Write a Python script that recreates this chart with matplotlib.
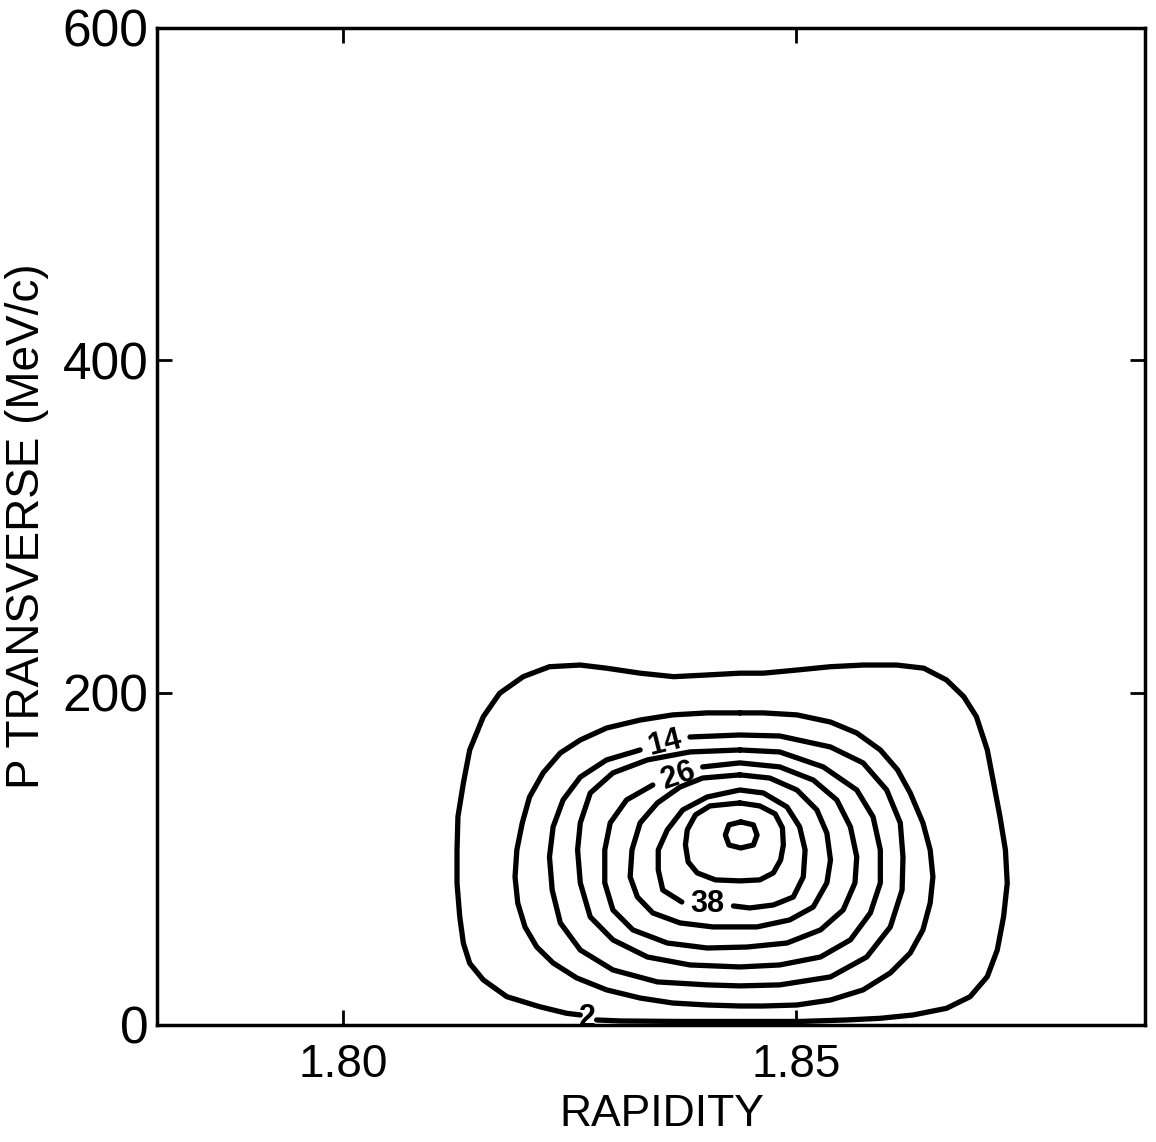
import matplotlib
matplotlib.use('Agg')
import matplotlib.pyplot as plt

# axis ticks
rapidity_ticks = [1.80, 1.85]
rapidity_labels = ['1.80', '1.85']
pt_ticks = [0, 200, 400, 600]
pt_labels = ['0', '200', '400', '600']

# contour lines: rapidity (x) and p transverse in MeV/c (y)
# level 2 (open at its label on the axis)
c2_x = [1.8262, 1.8247, 1.8217, 1.8181, 1.8155, 1.8140, 1.8133, 1.8129, 1.8126, 1.8126,
        1.8127, 1.8133, 1.8140, 1.8155, 1.8173, 1.8199, 1.8228, 1.8262, 1.8291, 1.8328,
        1.8365, 1.8401, 1.8438, 1.8464, 1.8501, 1.8538, 1.8574, 1.8611, 1.8641, 1.8666,
        1.8685, 1.8699, 1.8711, 1.8718, 1.8725, 1.8731, 1.8733, 1.8729, 1.8722, 1.8711,
        1.8692, 1.8666, 1.8629, 1.8593, 1.8556, 1.8504, 1.8438, 1.8372, 1.8306, 1.8280]
c2_y = [6.0, 7.0, 11.0, 17.0, 27.1, 37.1, 49.2, 65.2, 85.3, 105.3,
        125.3, 145.5, 165.5, 185.5, 199.6, 209.6, 215.6, 216.6, 214.7, 211.7,
        209.6, 210.6, 211.7, 211.7, 213.6, 215.6, 216.6, 216.6, 214.7, 207.6,
        197.6, 185.5, 165.5, 145.5, 125.3, 105.3, 85.3, 65.2, 45.1, 29.1,
        17.0, 10.0, 6.0, 4.0, 3.0, 2.1, 2.1, 2.1, 2.4, 3.0]

# level 8 (closed)
c8_x = [1.8438, 1.8464, 1.8501, 1.8538, 1.8567, 1.8593, 1.8612, 1.8626, 1.8640, 1.8648,
        1.8651, 1.8648, 1.8640, 1.8626, 1.8604, 1.8574, 1.8538, 1.8501, 1.8464, 1.8438,
        1.8402, 1.8364, 1.8328, 1.8291, 1.8258, 1.8232, 1.8214, 1.8201, 1.8193, 1.8190,
        1.8192, 1.8198, 1.8206, 1.8221, 1.8240, 1.8262, 1.8291, 1.8328, 1.8364, 1.8402]
c8_y = [187.8, 187.8, 186.6, 182.3, 175.7, 165.5, 153.5, 139.6, 121.6, 105.3,
        89.1, 73.4, 57.2, 43.3, 31.3, 21.1, 15.0, 12.0, 11.4, 11.4,
        12.0, 13.2, 16.2, 21.1, 28.3, 37.3, 46.9, 59.0, 73.4, 89.1,
        105.3, 121.6, 137.2, 151.7, 163.7, 171.5, 178.7, 183.5, 186.6, 187.8]

# level 14 (open at its label)
c14_x = [1.8383, 1.8438, 1.8482, 1.8538, 1.8574, 1.8600, 1.8615, 1.8618, 1.8617, 1.8604,
         1.8578, 1.8538, 1.8482, 1.8438, 1.8402, 1.8347, 1.8298, 1.8262, 1.8240, 1.8231,
         1.8228, 1.8232, 1.8243, 1.8262, 1.8291, 1.8328]
c14_y = [173.3, 174.5, 173.9, 167.3, 157.7, 141.4, 121.6, 101.1, 81.2, 59.0,
         40.9, 28.9, 24.1, 23.5, 24.1, 25.9, 33.1, 45.1, 61.4, 81.2,
         101.1, 119.2, 135.4, 149.2, 159.5, 165.5]

# level 20 (closed)
c20_x = [1.8438, 1.8482, 1.8530, 1.8567, 1.8585, 1.8593, 1.8593, 1.8582, 1.8560, 1.8527,
         1.8482, 1.8438, 1.8383, 1.8336, 1.8298, 1.8273, 1.8262, 1.8259, 1.8262, 1.8273,
         1.8298, 1.8336, 1.8383]
c20_y = [165.5, 164.3, 155.3, 141.4, 125.2, 105.3, 85.5, 67.4, 51.2, 40.9,
         36.1, 34.9, 36.1, 40.9, 51.2, 65.0, 85.5, 105.3, 121.6, 139.6,
         151.7, 159.5, 164.3]

# level 26 (open at its label)
c26_x = [1.8397, 1.8438, 1.8482, 1.8519, 1.8545, 1.8560, 1.8567, 1.8565, 1.8552, 1.8527,
         1.8490, 1.8446, 1.8402, 1.8358, 1.8320, 1.8298, 1.8289, 1.8289, 1.8295, 1.8313,
         1.8342]
c26_y = [155.3, 157.7, 155.3, 147.4, 135.4, 119.2, 101.1, 85.5, 69.2, 57.2,
         49.3, 46.9, 46.3, 49.3, 57.2, 69.2, 85.5, 105.3, 121.6, 135.4,
         144.4]

# level 32 (closed)
c32_x = [1.8438, 1.8471, 1.8501, 1.8523, 1.8534, 1.8538, 1.8534, 1.8519, 1.8493, 1.8457,
         1.8408, 1.8372, 1.8342, 1.8325, 1.8317, 1.8319, 1.8328, 1.8347, 1.8372, 1.8397]
c32_y = [150.5, 148.6, 141.4, 129.4, 115.5, 99.3, 85.5, 71.0, 63.2, 59.0,
         59.0, 61.4, 67.4, 77.0, 89.1, 105.3, 121.6, 133.6, 143.2, 148.6]

# level 38 (open at its label)
c38_x = [1.8374, 1.8353, 1.8348, 1.8348, 1.8358, 1.8375, 1.8402, 1.8438, 1.8464, 1.8490,
         1.8504, 1.8510, 1.8508, 1.8497, 1.8475, 1.8449, 1.8431]
c38_y = [74.0, 81.2, 93.3, 105.3, 117.4, 129.4, 137.2, 141.4, 139.6, 131.2,
         119.2, 105.3, 89.1, 77.0, 72.2, 70.4, 71.6]

# level 44 (closed)
c44_x = [1.8438, 1.8460, 1.8477, 1.8485, 1.8486, 1.8483, 1.8475, 1.8460, 1.8438, 1.8411,
         1.8391, 1.8381, 1.8378, 1.8380, 1.8389, 1.8405]
c44_y = [133.6, 131.8, 127.0, 118.6, 108.3, 99.3, 91.5, 87.3, 86.7, 87.3,
         91.5, 98.1, 108.3, 117.4, 126.4, 131.8]

# level 50 (closed, small peak ring)
c50_x = [1.8439, 1.8453, 1.8457, 1.8453, 1.8439, 1.8426, 1.8422, 1.8426]
c50_y = [122.2, 120.4, 114.3, 108.3, 106.5, 108.3, 114.3, 120.4]

# contour labels
lab_text = ['2', '14', '26', '38']
lab_x = [1.8270, 1.8355, 1.8370, 1.8402]
lab_y = [4.2, 169.4, 149.8, 72.8]
lab_rot = [0, 14, 19, 0]

fig = plt.figure(figsize=(11.56, 11.42), dpi=100)
ax = fig.add_axes([0.1358, 0.1025, 0.8547, 0.873])

open_lines = [(c2_x, c2_y), (c14_x, c14_y), (c26_x, c26_y), (c38_x, c38_y)]
closed_lines = [(c8_x, c8_y), (c20_x, c20_y), (c32_x, c32_y), (c44_x, c44_y), (c50_x, c50_y)]

for xs, ys in open_lines:
    ax.plot(xs, ys, color='black', lw=3.8, solid_capstyle='round', solid_joinstyle='round')
for xs, ys in closed_lines:
    ax.plot(xs + xs[:1], ys + ys[:1], color='black', lw=3.8,
            solid_capstyle='round', solid_joinstyle='round')

for t, x, y, r in zip(lab_text, lab_x, lab_y, lab_rot):
    ax.text(x, y, t, ha='center', va='center', rotation=r, fontsize=22,
            fontweight='bold', family=['Liberation Sans', 'DejaVu Sans'], color='black')

ax.set_xlim(1.7795, 1.8885)
ax.set_ylim(0, 600)

ax.set_xticks(rapidity_ticks)
ax.set_xticklabels(rapidity_labels, family=['Liberation Sans', 'DejaVu Sans'], fontsize=33)
ax.set_yticks(pt_ticks)
ax.set_yticklabels(pt_labels, family=['Liberation Sans', 'DejaVu Sans'], fontsize=37)

ax.tick_params(direction='in', length=11, width=2, top=True, right=True)
ax.tick_params(axis='x', pad=13)
ax.tick_params(axis='y', pad=6)

for sp in ax.spines.values():
    sp.set_linewidth(2.5)

ax.set_xlabel('RAPIDITY', family=['Liberation Sans', 'DejaVu Sans'], fontsize=32)
ax.xaxis.set_label_coords(0.511, -0.09)
ax.xaxis.label.set_va('center')
ax.set_ylabel('P TRANSVERSE (MeV/c)', family=['Liberation Sans', 'DejaVu Sans'],
              fontsize=33)
ax.yaxis.set_label_coords(-0.132, 0.5)
ax.yaxis.label.set_va('center')

fig.savefig('out.png', dpi=100)
